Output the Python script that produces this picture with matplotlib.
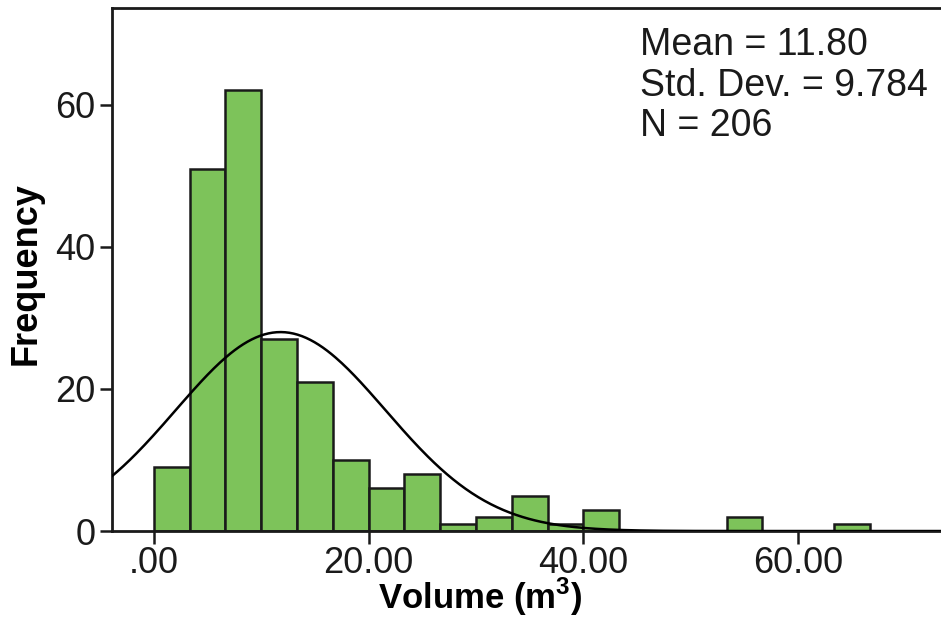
import numpy as np
import matplotlib
matplotlib.use("Agg")
import matplotlib.pyplot as plt
from matplotlib.ticker import FuncFormatter

# histogramme du volume
bin_width = 10 / 3
bin_edges = np.arange(0, 21) * bin_width
counts = [9, 51, 62, 27, 21, 10, 6, 8, 1, 2, 5, 1, 3, 0, 0, 0, 2, 0, 0, 1]

mean = 11.80
std = 9.784
N = 206
stats_lines = ["Mean = 11.80", "Std. Dev. = 9.784", "N = 206"]

x_ticks = [0, 20, 40, 60]
y_ticks = [0, 20, 40, 60]

plt.rcParams['font.family'] = ['Liberation Sans', 'DejaVu Sans']
plt.rcParams['mathtext.fontset'] = 'custom'
plt.rcParams['mathtext.rm'] = 'Liberation Sans:bold'
plt.rcParams['mathtext.bf'] = 'Liberation Sans:bold'

fig = plt.figure(figsize=(9.41, 6.2), dpi=100)
ax = fig.add_axes([0.119, 0.1435, 0.881, 0.8435])

ax.bar(bin_edges[:-1], counts, width=bin_width, align='edge',
       color='#7dc35a', edgecolor='#1a1a1a', linewidth=1.8, zorder=2)

# courbe normale (moyenne, écart-type, N)
xs = np.linspace(-4, 74, 400)
ys = N * bin_width / (std * np.sqrt(2 * np.pi)) * np.exp(-0.5 * ((xs - mean) / std) ** 2)
ax.plot(xs, ys, color='black', linewidth=1.8, zorder=3)

ax.set_xlim(-3.9, 73.3)
ax.set_ylim(0, 73.6)
ax.set_xticks(x_ticks)
ax.set_yticks(y_ticks)
ax.xaxis.set_major_formatter(FuncFormatter(lambda v, p: ".00" if v == 0 else f"{v:.2f}"))
ax.tick_params(axis='both', direction='out', length=9, width=1.8, labelsize=26, colors='#1a1a1a')
ax.tick_params(axis='x', pad=2)
ax.tick_params(axis='y', pad=3)

for side in ['left', 'top', 'bottom']:
    ax.spines[side].set_linewidth(2)
    ax.spines[side].set_color('#1a1a1a')
ax.spines['right'].set_visible(False)

ax.set_xlabel("Volume (m$^{3}$)", fontsize=25, fontweight='bold')
ax.xaxis.set_label_coords(0.444, -0.086)
ax.set_ylabel("Frequency", fontsize=26, fontweight='bold')
ax.yaxis.set_label_coords(-0.083, 0.493)

ax.text(0.637, 0.963, "\n".join(stats_lines), transform=ax.transAxes,
        fontsize=27, va='top', ha='left', linespacing=1.15, color='#1a1a1a')

fig.savefig("out.png", dpi=100)
